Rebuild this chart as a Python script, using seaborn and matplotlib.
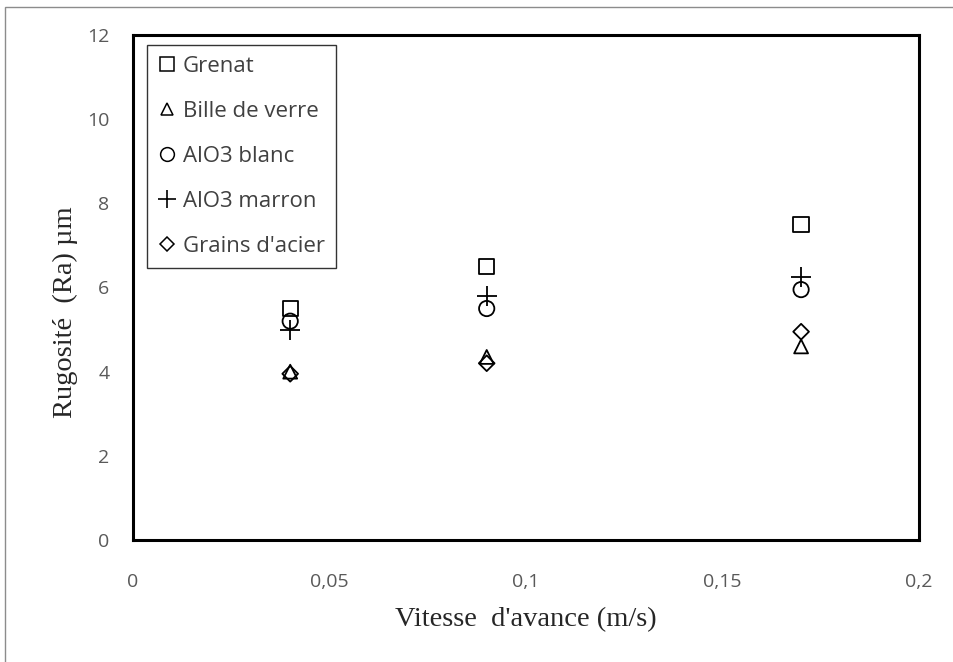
import matplotlib
matplotlib.use("Agg")
import matplotlib.pyplot as plt
import seaborn as sns
import pandas as pd
from matplotlib.patches import Rectangle
from matplotlib.lines import Line2D

# Data
vitesse = [0.04, 0.09, 0.17]
series_names = ["Grenat", "Bille de verre", "AlO3 blanc", "AlO3 marron", "Grains d'acier"]
grenat = [5.5, 6.5, 7.5]
bille_de_verre = [4.0, 4.35, 4.6]
alo3_blanc = [5.2, 5.5, 5.95]
alo3_marron = [5.0, 5.8, 6.25]
grains_acier = [3.95, 4.2, 4.95]
x_ticks = [0, 0.05, 0.1, 0.15, 0.2]
x_tick_labels = ["0", "0,05", "0,1", "0,15", "0,2"]
y_ticks = [0, 2, 4, 6, 8, 10, 12]

values = [grenat, bille_de_verre, alo3_blanc, alo3_marron, grains_acier]
rows = []
for name, vals in zip(series_names, values):
    for xv, yv in zip(vitesse, vals):
        rows.append({"serie": name, "vitesse": xv, "ra": yv})
df = pd.DataFrame(rows)

sns.set_theme(style="white")
plt.rcParams["font.family"] = ["Open Sans", "DejaVu Sans"]

fig = plt.figure(figsize=(9.54, 6.62), dpi=100)
ax = fig.add_axes([133/954, 1-540/662, 786/954, 505/662])

markers = {"Grenat": ("s", 11), "Bille de verre": ("^", 10),
           "AlO3 blanc": ("o", 11), "AlO3 marron": ("+", 14),
           "Grains d'acier": ("D", 8)}

handles = []
for name in series_names:
    m, ms = markers[name]
    sub = df[df["serie"] == name]
    if m == "+":
        sns.scatterplot(data=sub, x="vitesse", y="ra", marker=m, s=ms**2,
                        color="black", linewidth=1.3, ax=ax, zorder=3)
        h = Line2D([], [], marker=m, linestyle="none", color="black",
                   markersize=13, markeredgewidth=1.2)
    else:
        sns.scatterplot(data=sub, x="vitesse", y="ra", marker=m, s=ms**2,
                        facecolor="none", edgecolor="black", linewidth=1.3,
                        ax=ax, zorder=3)
        h = Line2D([], [], marker=m, linestyle="none", markerfacecolor="none",
                   markeredgecolor="black", markersize=ms*0.9, markeredgewidth=1.1)
    handles.append(h)

ax.set_xlim(0, 0.2)
ax.set_ylim(0, 12)
ax.set_xticks(x_ticks)
ax.set_xticklabels(x_tick_labels)
ax.set_yticks(y_ticks)
ax.tick_params(axis="both", length=0, labelsize=14, labelcolor="#595959")
ax.tick_params(axis="x", pad=24)
ax.tick_params(axis="y", pad=17)
for sp in ax.spines.values():
    sp.set_visible(True)
    sp.set_color("black")
    sp.set_linewidth(2.2)

ax.set_xlabel("Vitesse  d'avance (m/s)", family="Liberation Serif", fontsize=20.5,
              color="#262626", labelpad=11)
ax.set_ylabel("Rugosité  (Ra) µm", family="Liberation Serif", fontsize=20.5,
              color="#262626")
ax.yaxis.set_label_coords(-0.07, (540-312)/505)

leg = ax.legend(handles, series_names, loc="upper left",
                bbox_to_anchor=(147/954, 1-45/662), bbox_transform=fig.transFigure,
                borderaxespad=0, fontsize=16, labelspacing=1.08, handlelength=0.8,
                handletextpad=0.3, borderpad=0.5, frameon=True, fancybox=False,
                labelcolor="#404040")
leg.get_frame().set_edgecolor("black")
leg.get_frame().set_linewidth(1.0)

# figure border (top and left visible)
fig.add_artist(Rectangle((5/954, -0.1), 1.2, (662-7)/662 + 0.1,
                         transform=fig.transFigure, fill=False,
                         edgecolor="#8c8c8c", linewidth=1.0))

fig.savefig("out.png", dpi=100)
